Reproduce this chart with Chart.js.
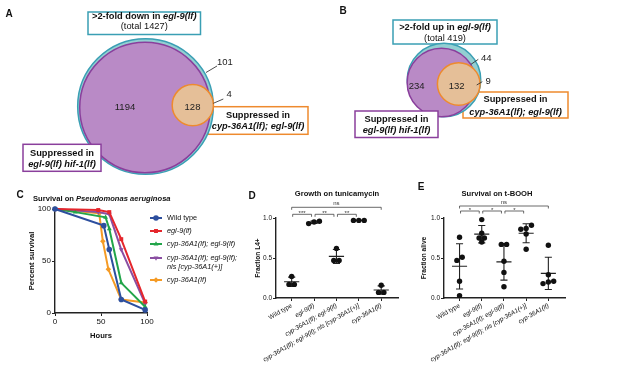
<!DOCTYPE html>
<html lang="en">
<head>
<meta charset="UTF-8">
<title>Figure</title>
<style>
  body { margin:0; width:617px; height:365px; position:relative; background:#fff; overflow:hidden;
         font-family:"Liberation Sans", Arial, sans-serif; color:#111; }
  canvas, .t { position:absolute; }
  .t { white-space:nowrap; transform:translate(-50%,-50%); }
  .letter { font-weight:bold; font-size:10px; }
  .ttl { font-weight:bold; font-size:7.6px; }
</style>
</head>
<body>
<canvas id="vennA" width="320" height="180" style="left:0;top:0"></canvas>
<canvas id="vennB" width="297" height="170" style="left:320px;top:0"></canvas>
<canvas id="chartC" width="250" height="155" style="left:0;top:195px"></canvas>
<canvas id="chartD" width="170" height="170" style="left:240px;top:195px"></canvas>
<canvas id="chartE" width="172" height="170" style="left:410px;top:195px"></canvas>

<div class="t letter" style="left:9px;top:13px">A</div>
<div class="t letter" style="left:343px;top:10px">B</div>
<div class="t letter" style="left:20px;top:194px">C</div>
<div class="t letter" style="left:252px;top:195px">D</div>
<div class="t letter" style="left:421px;top:186px">E</div>
<div class="t ttl" style="left:33px;top:198px;transform:translate(0,-50%)">Survival on <i>Pseudomonas aeruginosa</i></div>
<div class="t ttl" style="left:337px;top:193px">Growth on tunicamycin</div>
<div class="t ttl" style="left:497px;top:193px">Survival on t-BOOH</div>

<script src="https://cdn.jsdelivr.net/npm/chart.js"></script>
<script>
    // ---- data ----
    // Venn A: genes >2-fold down in egl-9(lf)
    const totalA = 1427;
    const regionsA = [1194, 128, 101, 4];   // hif-1 only, hif-1 & cyp, neither, cyp only
    // Venn B: genes >2-fold up in egl-9(lf)
    const totalB = 419;
    const regionsB = [234, 132, 44, 9];

    // C: survival on P. aeruginosa
    const strains = ['Wild type', 'egl-9(lf)', 'cyp-36A1(lf); egl-9(lf)',
                     'cyp-36A1(lf); egl-9(lf); nls [cyp-36A1(+)]', 'cyp-36A1(lf)'];
    const hoursWT     = [0, 53, 59, 72, 98];
    const survWT      = [100, 84, 61, 13, 3];
    const hoursEgl    = [0, 47, 59, 72, 98];
    const survEgl     = [100, 99, 97, 71, 11];
    const hoursCypEgl = [0, 22, 55, 59, 72, 98];
    const survCypEgl  = [100, 97, 92, 81, 29, 6];
    const hoursNls    = [0, 47, 59, 72, 98];
    const survNls     = [100, 97, 95, 61, 9];
    const hoursCyp    = [0, 48, 52, 58, 72, 98];
    const survCyp     = [100, 96, 69, 42, 13, 10];

    // D: fraction L4+ on tunicamycin (one value per replicate)
    const growthD = [
        [0.27, 0.17, 0.17],
        [0.96, 0.95, 0.93],
        [0.62, 0.47, 0.47],
        [0.97, 0.97, 0.97],
        [0.16, 0.07, 0.07]
    ];
    const compD = [[0, 4, 'ns'], [0, 1, '***'], [1, 2, '**'], [2, 3, '**']];

    // E: fraction alive on t-BOOH
    const aliveE = [
        [0.76, 0.51, 0.47, 0.21, 0.03],
        [0.98, 0.81, 0.75, 0.75, 0.70],
        [0.67, 0.67, 0.46, 0.32, 0.14],
        [0.91, 0.87, 0.86, 0.80, 0.61],
        [0.66, 0.29, 0.21, 0.20, 0.18]
    ];
    const compE = [[0, 4, 'ns'], [0, 1, '*'], [1, 2, '*'], [2, 3, '*']];

    // ---- look ----
    const FONT = '"Liberation Sans", Arial, sans-serif';
    Chart.defaults.font.family = FONT;
    Chart.defaults.color = '#111';

    const TEAL = '#3a9fb4', TEAL_FILL = '#93cfd2';
    const PURP = '#8a3f9c', PURP_FILL = '#b98ac6';
    const ORNG = '#ee8a2e', ORNG_FILL = '#e5bf98';
    const vennFill = [TEAL_FILL, PURP_FILL, ORNG_FILL];
    const vennLine = [TEAL, PURP, ORNG];
    const K = 1.795;   // px per sqrt(gene count), circles are area proportional

    function richLine(ctx, parts, cx, cy, size) {
        let w = 0;
        const ws = parts.map(p => { ctx.font = p[1] + ' ' + size + 'px ' + FONT; const m = ctx.measureText(p[0]).width; w += m; return m; });
        let x = cx - w / 2;
        ctx.textAlign = 'left';
        ctx.textBaseline = 'middle';
        parts.forEach((p, i) => { ctx.font = p[1] + ' ' + size + 'px ' + FONT; ctx.fillText(p[0], x, cy); x += ws[i]; });
    }

    function drawBox(ctx, x, y, b) {
        const x1 = x.getPixelForValue(b.x), y1 = y.getPixelForValue(b.y);
        const x2 = x.getPixelForValue(b.x + b.w), y2 = y.getPixelForValue(b.y + b.h);
        ctx.fillStyle = '#fff';
        ctx.strokeStyle = b.c;
        ctx.lineWidth = 1.5;
        ctx.fillRect(x1, y1, x2 - x1, y2 - y1);
        ctx.strokeRect(x1, y1, x2 - x1, y2 - y1);
        ctx.fillStyle = '#111';
        b.lines.forEach((ln, k) => richLine(ctx, ln, (x1 + x2) / 2, y.getPixelForValue(b.ty[k]), 9.3));
    }

    function vennChart(id, total, regions, lay, xr, yr) {
        const sizes = [total, regions[0] + regions[1], regions[1] + regions[3]];
        const deco = {
            id: 'vennDeco',
            beforeDatasetsDraw(chart) {
                const {ctx, scales: {x, y}} = chart;
                ctx.save();
                lay.boxes.filter(b => !b.front).forEach(b => drawBox(ctx, x, y, b));
                // set circles, radius from gene count through the x scale
                chart.data.datasets[0].data.forEach((d, i) => {
                    const cx = x.getPixelForValue(d.x), cy = y.getPixelForValue(d.y);
                    const r = x.getPixelForValue(d.x + K * Math.sqrt(d.n)) - cx;
                    ctx.beginPath();
                    ctx.arc(cx, cy, r, 0, Math.PI * 2);
                    ctx.fillStyle = vennFill[i];
                    ctx.fill();
                    ctx.lineWidth = 1.5;
                    ctx.strokeStyle = vennLine[i];
                    ctx.stroke();
                });
                ctx.restore();
            },
            afterDatasetsDraw(chart) {
                const {ctx, scales: {x, y}} = chart;
                ctx.save();
                lay.boxes.filter(b => b.front).forEach(b => drawBox(ctx, x, y, b));
                ctx.strokeStyle = '#222';
                ctx.lineWidth = 0.8;
                lay.leaders.forEach(l => {
                    ctx.beginPath();
                    ctx.moveTo(x.getPixelForValue(l[0]), y.getPixelForValue(l[1]));
                    ctx.lineTo(x.getPixelForValue(l[2]), y.getPixelForValue(l[3]));
                    ctx.stroke();
                });
                ctx.fillStyle = '#222';
                ctx.font = '9.5px ' + FONT;
                ctx.textBaseline = 'middle';
                regions.forEach((n, i) => {
                    const p = lay.nums[i];
                    ctx.textAlign = p[2];
                    ctx.fillText(String(n), x.getPixelForValue(p[0]), y.getPixelForValue(p[1]));
                });
                ctx.restore();
            }
        };
        return new Chart(document.getElementById(id), {
            type: 'scatter',
            data: {
                datasets: [{
                    data: sizes.map((n, i) => ({x: lay.centers[i][0], y: lay.centers[i][1], n: n})),
                    pointRadius: 0
                }]
            },
            options: {
                responsive: false, animation: false, events: [],
                layout: {autoPadding: false, padding: 0},
                plugins: {legend: {display: false}, tooltip: {enabled: false}},
                scales: {
                    x: {type: 'linear', display: false, min: xr[0], max: xr[1]},
                    y: {type: 'linear', display: false, min: yr[0], max: yr[1], reverse: true}
                }
            },
            plugins: [deco]
        });
    }

    const B = 'bold', BI = 'bold italic', N = 'normal';
    vennChart('vennA', totalA, regionsA, {
        centers: [[145.5, 106.5], [145, 107.5], [192.8, 105.2]],
        boxes: [
            {x: 88, y: 12, w: 112.5, h: 22.5, c: TEAL, ty: [16.5, 26.8],
             lines: [[['>2-fold down in ', B], ['egl-9(lf)', BI]], [['(total ' + totalA + ')', N]]]},
            {x: 208, y: 106.7, w: 100, h: 27.6, c: ORNG, ty: [115.2, 126.2],
             lines: [[['Suppressed in', B]], [['cyp-36A1(lf); egl-9(lf)', BI]]]},
            {x: 23, y: 144.3, w: 78, h: 27, c: PURP, ty: [153.8, 164.2], front: true,
             lines: [[['Suppressed in', B]], [['egl-9(lf) hif-1(lf)', BI]]]}
        ],
        nums: [[125, 107.5, 'center'], [192.5, 107.5, 'center'], [217, 62, 'left'], [226.5, 94.5, 'left']],
        leaders: [[206, 72.5, 217, 66], [213.3, 103.3, 223.3, 99]]
    }, [0, 320], [0, 180]);

    vennChart('vennB', totalB, regionsB, {
        centers: [[444, 80], [441.5, 82.5], [458.7, 84]],
        boxes: [
            {x: 393, y: 20, w: 104, h: 24, c: TEAL, ty: [27.8, 38.5],
             lines: [[['>2-fold up in ', B], ['egl-9(lf)', BI]], [['(total ' + totalB + ')', N]]]},
            {x: 463, y: 92, w: 105, h: 26, c: ORNG, ty: [99.5, 112.5],
             lines: [[['Suppressed in', B]], [['cyp-36A1(lf); egl-9(lf)', BI]]]},
            {x: 355, y: 111, w: 83, h: 26.5, c: PURP, ty: [119, 130.7], front: true,
             lines: [[['Suppressed in', B]], [['egl-9(lf) hif-1(lf)', BI]]]}
        ],
        nums: [[416.7, 86.5, 'center'], [456.7, 86.5, 'center'], [481, 58.5, 'left'], [485.5, 81, 'left']],
        leaders: [[471, 64.3, 478.3, 59.3], [476.7, 85, 482.3, 81.7]]
    }, [320, 617], [0, 170]);

    // ---- C: survival curves ----
    const hoursC = [hoursWT, hoursEgl, hoursCypEgl, hoursNls, hoursCyp];
    const survC  = [survWT, survEgl, survCypEgl, survNls, survCyp];
    const colorsC = ['#2d4f9e', '#e5262c', '#22a54a', '#8a4ea2', '#f59b25'];
    const markC = ['circle', 'rect', 'triangle', 'triangle', 'rectRot'];
    const rotC = [0, 0, 0, 180, 0];
    const legendRowsC = [9, 22, 35, 49, 71];

    const legendC = {
        id: 'legendC',
        afterDraw(chart) {
            const {ctx, chartArea: a} = chart;
            ctx.save();
            chart.data.datasets.forEach((ds, i) => {
                const y = a.top + legendRowsC[i];
                const x0 = a.right + 3;
                ctx.strokeStyle = ds.borderColor;
                ctx.fillStyle = ds.borderColor;
                ctx.lineWidth = 2;
                ctx.beginPath();
                ctx.moveTo(x0, y);
                ctx.lineTo(x0 + 12, y);
                ctx.stroke();
                if (Chart.helpers && Chart.helpers.drawPoint) {
                    Chart.helpers.drawPoint(ctx, {pointStyle: ds.pointStyle, radius: 2.8, rotation: ds.pointRotation, borderWidth: 0}, x0 + 6, y);
                }
                ctx.fillStyle = '#111';
                ctx.font = (i === 0 ? '' : 'italic ') + '7.3px ' + FONT;
                ctx.textAlign = 'left';
                ctx.textBaseline = 'middle';
                const txt = ds.label;
                const cut = txt.indexOf('; nls');
                const lines = cut > 0 ? [txt.slice(0, cut + 1), txt.slice(cut + 2)] : [txt];
                lines.forEach((t, k) => ctx.fillText(t, x0 + 17, y + k * 9));
            });
            ctx.restore();
        }
    };

    const axisCommon = {
        grid: {drawOnChartArea: false, tickLength: 3, color: '#222', lineWidth: 1},
        border: {color: '#222', width: 1.4}
    };

    new Chart(document.getElementById('chartC'), {
        type: 'line',
        data: {
            datasets: strains.map((s, i) => ({
                label: s,
                data: hoursC[i].map((h, j) => ({x: h, y: survC[i][j]})),
                borderColor: colorsC[i],
                backgroundColor: colorsC[i],
                borderWidth: 2,
                pointStyle: markC[i],
                pointRotation: rotC[i],
                pointRadius: 2.8,
                pointBorderWidth: 0,
                tension: 0,
                clip: false
            }))
        },
        options: {
            responsive: false, animation: false, events: [],
            layout: {autoPadding: false, padding: {top: 14, right: 103, left: 0, bottom: 0}},
            plugins: {legend: {display: false}, tooltip: {enabled: false}},
            scales: {
                x: Object.assign({}, axisCommon, {
                    type: 'linear', min: 0, max: 100,
                    ticks: {stepSize: 50, font: {size: 8}, padding: 1, maxRotation: 0},
                    title: {display: true, text: 'Hours', font: {size: 7.6, weight: 'bold'}, padding: {top: 0, bottom: 9.5}},
                    afterFit: s => { s.height = 37; }
                }),
                y: Object.assign({}, axisCommon, {
                    min: 0, max: 100,
                    ticks: {stepSize: 50, font: {size: 8}, padding: 1},
                    title: {display: true, text: 'Percent survival', font: {size: 7.6, weight: 'bold'}, padding: {top: 27.5, bottom: 0}},
                    afterFit: s => { s.width = 55; }
                })
            }
        },
        plugins: [legendC]
    });

    // ---- D / E: dot plots with mean and SD ----
    const mean = v => v.reduce((a, b) => a + b, 0) / v.length;
    const sd = v => { const m = mean(v); return Math.sqrt(v.reduce((a, b) => a + (b - m) * (b - m), 0) / (v.length - 1)); };

    // spread replicates of nearly equal value side by side
    function swarm(vals, i) {
        const idx = vals.map((v, k) => k).sort((a, b) => vals[a] - vals[b]);
        const out = [];
        let group = [idx[0]];
        const flush = () => {
            group.forEach((k, j) => out.push({x: i + (j - (group.length - 1) / 2) * 0.24, y: vals[k]}));
        };
        for (let n = 1; n < idx.length; n++) {
            if (vals[idx[n]] - vals[idx[n - 1]] < 0.045) group.push(idx[n]);
            else { flush(); group = [idx[n]]; }
        }
        flush();
        return out;
    }

    function errorBars(groups) {
        const pts = [];
        groups.forEach((v, i) => {
            const m = mean(v), s = sd(v);
            pts.push({x: i - 0.34, y: m}, {x: i + 0.34, y: m}, {x: i, y: null},
                     {x: i, y: m - s}, {x: i, y: m + s}, {x: i, y: null},
                     {x: i - 0.16, y: m + s}, {x: i + 0.16, y: m + s}, {x: i, y: null},
                     {x: i - 0.16, y: m - s}, {x: i + 0.16, y: m - s}, {x: i, y: null});
        });
        return pts;
    }

    function brackets(comps, nsUp, smallUp) {
        return {
            id: 'brackets',
            afterDraw(chart) {
                const {ctx, chartArea: a, scales: {x}} = chart;
                ctx.save();
                ctx.strokeStyle = '#444';
                ctx.fillStyle = '#333';
                ctx.lineWidth = 0.8;
                ctx.font = '6px ' + FONT;
                ctx.textAlign = 'center';
                ctx.textBaseline = 'bottom';
                comps.forEach(c => {
                    const wide = c[1] - c[0] > 1;
                    const y = a.top - (wide ? nsUp : smallUp);
                    const x1 = x.getPixelForValue(c[0]) + (wide ? 0 : 1);
                    const x2 = x.getPixelForValue(c[1]) - (wide ? 0 : 2.5);
                    ctx.beginPath();
                    ctx.moveTo(x1, y + 2.5);
                    ctx.lineTo(x1, y);
                    ctx.lineTo(x2, y);
                    ctx.lineTo(x2, y + 2.5);
                    ctx.stroke();
                    ctx.fillText(c[2], (x1 + x2) / 2, y + (c[2] === 'ns' ? -0.5 : 2));
                });
                ctx.restore();
            }
        };
    }

    function dotChart(id, groups, yTitle, yAxisW, padTitle, padRight, comps, nsUp, smallUp) {
        return new Chart(document.getElementById(id), {
            type: 'scatter',
            data: {
                datasets: [{
                    data: groups.flatMap((v, i) => swarm(v, i)),
                    backgroundColor: '#111',
                    borderWidth: 0,
                    pointRadius: 2.7,
                    clip: false
                }, {
                    type: 'line',
                    data: errorBars(groups),
                    borderColor: '#222',
                    borderWidth: 1.1,
                    pointRadius: 0,
                    spanGaps: false,
                    clip: false
                }]
            },
            options: {
                responsive: false, animation: false, events: [],
                layout: {autoPadding: false, padding: {top: 23, right: padRight, left: 0, bottom: 0}},
                plugins: {legend: {display: false}, tooltip: {enabled: false}},
                scales: {
                    x: Object.assign({}, axisCommon, {
                        type: 'linear', min: -0.7, max: 4.75,
                        afterBuildTicks: s => { s.ticks = strains.map((g, i) => ({value: i})); },
                        ticks: {
                            autoSkip: false, minRotation: 30, maxRotation: 30, padding: 1,
                            callback: v => strains[v],
                            font: c => ({size: 6.3, style: c.index === 0 ? 'normal' : 'italic'})
                        },
                        afterFit: s => { s.height = 67; }
                    }),
                    y: Object.assign({}, axisCommon, {
                        min: 0, max: 1,
                        ticks: {stepSize: 0.5, font: {size: 6.5}, padding: 1, callback: v => v.toFixed(1)},
                        title: {display: true, text: yTitle, font: {size: 6.6, weight: 'bold'}, padding: {top: padTitle, bottom: 0}},
                        afterFit: s => { s.width = yAxisW; }
                    })
                }
            },
            plugins: [brackets(comps, nsUp, smallUp)]
        });
    }

    dotChart('chartD', growthD, 'Fraction L4+', 36, 14, 12, compD, 10.7, 3.7);
    dotChart('chartE', aliveE, 'Fraction alive', 34, 10, 17, compE, 12, 7);
</script>
</body>
</html>
